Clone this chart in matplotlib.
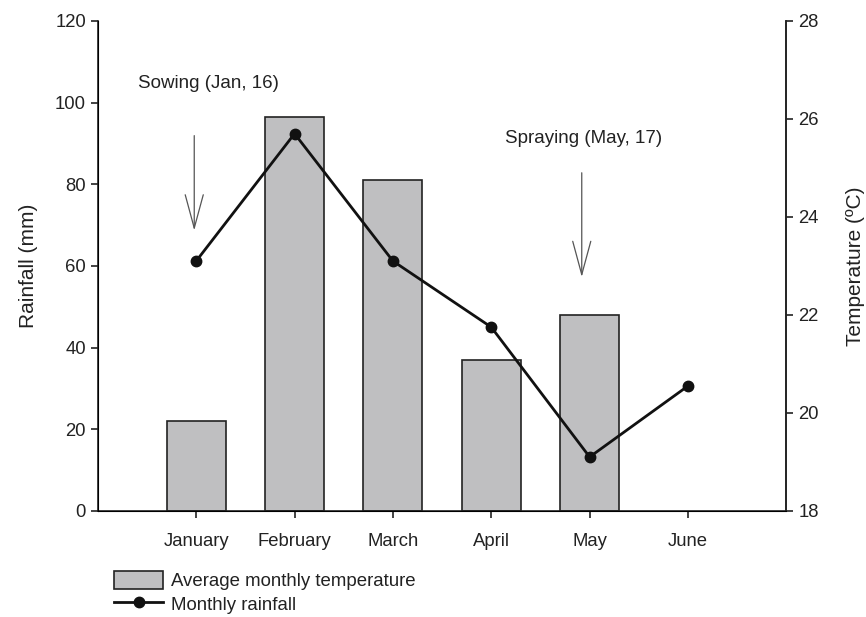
import matplotlib
matplotlib.use('Agg')

import matplotlib.pyplot as plt
import numpy as np

plt.rcParams['font.family'] = ['Liberation Sans', 'DejaVu Sans']
plt.rcParams['text.color'] = '#222222'
plt.rcParams['axes.labelcolor'] = '#222222'
plt.rcParams['xtick.color'] = '#222222'
plt.rcParams['ytick.color'] = '#222222'

months = ['January', 'February', 'March', 'April', 'May', 'June']
bar_values = [22, 96.5, 81, 37, 48, np.nan]          # left axis, mm
line_values = [23.1, 25.7, 23.1, 21.75, 19.1, 20.55]  # right axis, degC

bar_label = 'Average monthly temperature'
line_label = 'Monthly rainfall'

x = np.arange(len(months))

fig = plt.figure(figsize=(8.66, 6.17), dpi=100)
ax = fig.add_axes([0.113, 0.172, 0.795, 0.794])

bars = ax.bar(x, bar_values, width=0.6, color='#bfbfc1', edgecolor='#222222',
              linewidth=1.2, label=bar_label, zorder=2)
ax.set_xlim(-1, 6)
ax.set_ylim(0, 120)
ax.set_yticks(np.arange(0, 121, 20))
ax.set_xticks(x)
ax.set_xticklabels(months, fontsize=13.3)
ax.set_ylabel('Rainfall (mm)', fontsize=15, labelpad=12)
ax.tick_params(axis='y', labelsize=13.3, length=5, width=1.2, direction='out')
ax.tick_params(axis='x', length=5, width=1.2, direction='out', pad=11)
ax.spines['top'].set_visible(False)
for s in ['left', 'bottom', 'right']:
    ax.spines[s].set_linewidth(1.2)
    ax.spines[s].set_color('#222222')

ax2 = ax.twinx()
line, = ax2.plot(x, line_values, '-o', color='#111111', lw=2, ms=7.5,
                 label=line_label, zorder=3)
ax2.set_ylim(18, 28)
ax2.set_yticks(np.arange(18, 29, 2))
ax2.set_ylabel('Temperature (ºC)', fontsize=15, labelpad=20)
ax2.tick_params(axis='y', labelsize=13.3, length=5, width=1.2, direction='out')
ax2.spines['top'].set_visible(False)
ax2.spines['right'].set_linewidth(1.2)
ax2.spines['right'].set_color('#222222')

# event arrows
arrow_style = dict(arrowstyle='->,head_length=2.4,head_width=0.65',
                   color='#555555', lw=0.9)
ax.annotate('', xy=(-0.02, 68), xytext=(-0.02, 92.6), arrowprops=arrow_style)
ax.text(0.12, 104.8, 'Sowing (Jan, 16)', ha='center', va='center', fontsize=13.5)

ax.annotate('', xy=(3.92, 56.6), xytext=(3.92, 83.5), arrowprops=arrow_style)
ax.text(3.94, 91.1, 'Spraying (May, 17)', ha='center', va='center', fontsize=13.5)

fig.legend([bars, line], [bar_label, line_label], loc='upper left',
           bbox_to_anchor=(0.132, 0.075), frameon=False, fontsize=13.4,
           handlelength=2.6, handleheight=1.1, labelspacing=0.25,
           borderpad=0, handletextpad=0.45, borderaxespad=0)

fig.savefig('out.png', dpi=100)
